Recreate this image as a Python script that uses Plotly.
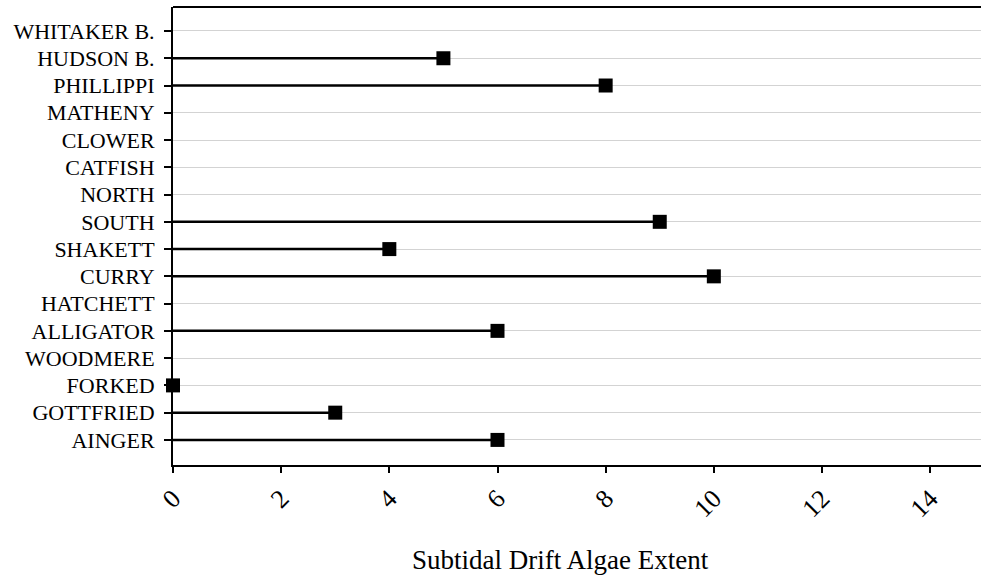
import plotly.graph_objects as go

categories = ["AINGER", "GOTTFRIED", "FORKED", "WOODMERE", "ALLIGATOR", "HATCHETT",
              "CURRY", "SHAKETT", "SOUTH", "NORTH", "CATFISH", "CLOWER", "MATHENY",
              "PHILLIPPI", "HUDSON B.", "WHITAKER B."]
values = [6, 3, 0, None, 6, None, 10, 4, 9, None, None, None, None, 8, 5, None]
x_ticks = [0, 2, 4, 6, 8, 10, 12, 14]

FONT = "Liberation Serif"

# stems built from data
lx, ly = [], []
for c, v in zip(categories, values):
    if v is None:
        continue
    lx += [0, v, None]
    ly += [c, c, None]

fig = go.Figure()
fig.add_trace(go.Scatter(x=lx, y=ly, mode="lines",
                         line=dict(color="black", width=2.5),
                         hoverinfo="skip", showlegend=False, cliponaxis=False))
mx = [v for v in values if v is not None]
my = [c for c, v in zip(categories, values) if v is not None]
fig.add_trace(go.Scatter(x=mx, y=my, mode="markers",
                         marker=dict(symbol="square", size=14, color="black"),
                         showlegend=False, cliponaxis=False))

fig.update_layout(
    width=981, height=577,
    margin=dict(l=173, r=0, t=7, b=112),
    plot_bgcolor="white", paper_bgcolor="white",
    font=dict(family=FONT, color="black", size=22),
    xaxis=dict(range=[0, 14.94], tickvals=x_ticks, ticktext=[str(t) for t in x_ticks],
               tickangle=-45, showgrid=False, zeroline=False,
               showline=True, linecolor="black", linewidth=2, mirror=False,
               ticks="outside", ticklen=6, tickwidth=1.5, tickcolor="black",
               tickfont=dict(family=FONT, size=26)),
    yaxis=dict(type="category", categoryorder="array", categoryarray=categories,
               range=[-0.92, 15.88], showgrid=True, gridcolor="#d3d3d3", gridwidth=1,
               zeroline=False, showline=True, linecolor="black", linewidth=2,
               ticks="outside", ticklen=7, tickwidth=1.5, tickcolor="black",
               ticklabelstandoff=5,
               tickfont=dict(family=FONT, size=22)),
    shapes=[dict(type="line", xref="paper", yref="paper", x0=0, x1=1.01, y0=1, y1=1,
                 line=dict(color="black", width=2))],
    annotations=[dict(text="Subtidal Drift Algae Extent", xref="paper", yref="paper",
                      x=(560 - 173) / 808, y=-(560 - 465) / 458, xanchor="center", yanchor="middle",
                      showarrow=False, font=dict(family=FONT, size=27))],
)

fig.write_html("out.html", config={"displayModeBar": False},
               post_script="document.body.style.margin='0';document.body.style.overflow='hidden';")
